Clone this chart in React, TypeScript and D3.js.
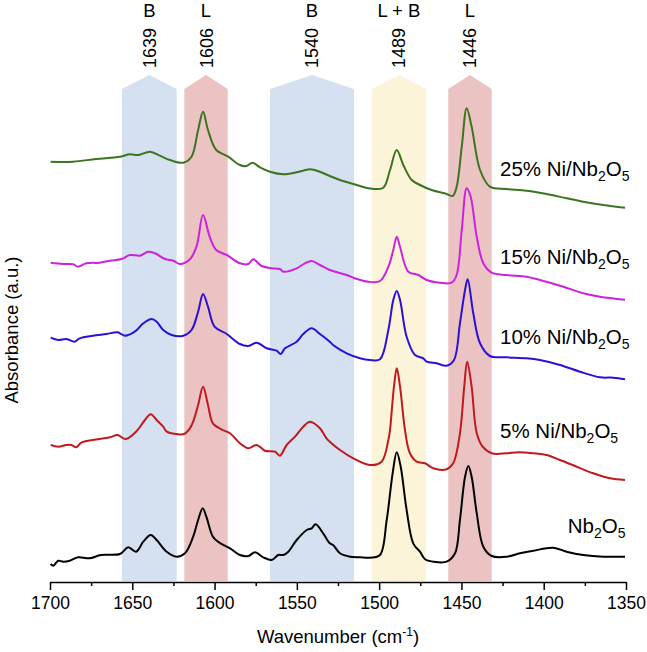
import React, { useRef, useEffect } from "react";
import * as d3 from "d3";

const W = 647,
  H = 652;

// assignment bands (cm-1)
const bandCenters = ["1639", "1606", "1540", "1489", "1446"];
const bandTypes = ["B", "L", "B", "L + B", "L"];
const bandFrom = [1656.3, 1618.4, 1566.3, 1504.5, 1458];
const bandTo = [1623, 1592, 1515.3, 1471.5, 1431.6];
const bandColors = ["#d5e0f0", "#ebc3c3", "#d5e0f0", "#fbf4d9", "#ebc3c3"];

const xTicks = [1700, 1650, 1600, 1550, 1500, 1450, 1400, 1350];
const xMinor = [1675, 1625, 1575, 1525, 1475, 1425, 1375];

// spectra: [wavenumber, absorbance offset a.u.]
const nb2o5: [number, number][] = [
  [1699.6, 0.05], [1698, 0.033], [1695, 0.083], [1692, 0.073], [1688, 0.083], [1683, 0.117],
  [1676, 0.107], [1669, 0.14], [1657.5, 0.15], [1652.5, 0.217], [1647.7, 0.173], [1643.3, 0.273],
  [1638.8, 0.34], [1635.2, 0.29], [1629.1, 0.173], [1623, 0.123], [1618, 0.157], [1613, 0.323],
  [1610, 0.49], [1607.2, 0.607], [1605, 0.523], [1601, 0.323], [1597, 0.263], [1590.6, 0.207],
  [1584.6, 0.14], [1579.5, 0.13], [1575.4, 0.167], [1570.4, 0.117], [1565.3, 0.09], [1561.3, 0.14],
  [1558.2, 0.14], [1555.2, 0.173], [1550.1, 0.29], [1544, 0.39], [1541, 0.407], [1538.6, 0.447],
  [1534, 0.357], [1530, 0.257], [1528, 0.24], [1523.8, 0.157], [1517.7, 0.123], [1511.6, 0.117],
  [1505.6, 0.113], [1499.5, 0.14], [1495.4, 0.49], [1491.8, 0.957], [1489.3, 1.167], [1486.9, 1.023],
  [1483.3, 0.59], [1479.3, 0.257], [1475.2, 0.173], [1472.1, 0.097], [1467.1, 0.073], [1459, 0.073],
  [1453.9, 0.157], [1450.9, 0.49], [1447.8, 0.923], [1445.8, 1.03], [1443.8, 0.923], [1440.7, 0.557],
  [1436.7, 0.223], [1431.6, 0.13], [1422.5, 0.123], [1414.4, 0.157], [1406.3, 0.183], [1394.2, 0.213],
  [1386.1, 0.173], [1376, 0.14], [1363.8, 0.123], [1350.6, 0.123],
];

const ni5: [number, number][] = [
  [1699.6, 1.24], [1695, 1.223], [1690, 1.24], [1687, 1.24], [1684, 1.217], [1681, 1.263],
  [1674, 1.29], [1663.5, 1.317], [1659, 1.34], [1654, 1.3], [1647.3, 1.38], [1642.3, 1.49],
  [1638.8, 1.547], [1635.2, 1.49], [1631.2, 1.423], [1629.1, 1.373], [1623, 1.35], [1618.6, 1.35],
  [1615, 1.407], [1613, 1.473], [1610, 1.64], [1607, 1.823], [1604, 1.64], [1601, 1.457],
  [1595, 1.39], [1590.6, 1.357], [1584.6, 1.257], [1579.5, 1.207], [1574.4, 1.24], [1569.4, 1.183],
  [1563.3, 1.173], [1560.3, 1.133], [1556.2, 1.24], [1551.1, 1.323], [1546.1, 1.423], [1542, 1.473],
  [1536, 1.407], [1532, 1.307], [1530, 1.273], [1523.8, 1.19], [1515.7, 1.107], [1505.6, 1.04],
  [1498.5, 1.073], [1494.4, 1.29], [1493.4, 1.39], [1491, 1.823], [1489.3, 2.007], [1487.3, 1.823],
  [1484.3, 1.39], [1481.3, 1.157], [1477.2, 1.073], [1472.1, 1.057], [1467.1, 1.007], [1459, 0.997],
  [1455, 1.057], [1450.9, 1.357], [1448.3, 1.823], [1446.5, 2.073], [1443.8, 1.823], [1440.7, 1.357],
  [1437.1, 1.223], [1431.6, 1.157], [1422.5, 1.157], [1415.5, 1.167], [1406.3, 1.157], [1398.2, 1.14],
  [1390.1, 1.09], [1380, 1.023], [1369.9, 0.957], [1359.7, 0.907], [1350.6, 0.89],
];

const ni10: [number, number][] = [
  [1699.6, 2.313], [1695, 2.29], [1690, 2.3], [1685, 2.273], [1682, 2.307], [1674, 2.333],
  [1665.5, 2.35], [1659, 2.367], [1654.5, 2.333], [1648.5, 2.373], [1643.3, 2.457], [1638.2, 2.5],
  [1635.2, 2.473], [1631.2, 2.39], [1626.1, 2.34], [1619, 2.333], [1614, 2.39], [1610, 2.573],
  [1607, 2.75], [1604, 2.623], [1600, 2.423], [1592.6, 2.35], [1584.6, 2.25], [1579.5, 2.23],
  [1574.4, 2.263], [1568.3, 2.207], [1562.3, 2.183], [1559.8, 2.15], [1557.2, 2.207], [1550.1, 2.273],
  [1546.1, 2.35], [1541, 2.407], [1536, 2.35], [1530, 2.273], [1528, 2.24], [1519.7, 2.157],
  [1511.6, 2.107], [1505.6, 2.09], [1499.5, 2.097], [1494.4, 2.39], [1491.4, 2.69], [1489.3, 2.78],
  [1487.3, 2.69], [1483.3, 2.323], [1478.2, 2.14], [1473.2, 2.107], [1471.1, 2.073], [1465, 2.057],
  [1459, 2.033], [1454.5, 2.09], [1450.9, 2.457], [1447.8, 2.79], [1446.2, 2.897], [1442.8, 2.557],
  [1438.7, 2.257], [1432.7, 2.13], [1422.5, 2.117], [1410.4, 2.107], [1402.3, 2.09], [1390.1, 2.04],
  [1378, 1.973], [1365.8, 1.917], [1357.7, 1.913], [1350.6, 1.897],
];

const ni15: [number, number][] = [
  [1699.6, 3.063], [1692, 3.05], [1686, 3.047], [1683, 3.023], [1678, 3.057], [1670, 3.063],
  [1663.5, 3.083], [1656.5, 3.1], [1651.5, 3.14], [1645.3, 3.133], [1640.3, 3.173], [1636.2, 3.157],
  [1630.1, 3.1], [1625.1, 3.083], [1621, 3.05], [1615, 3.097], [1611, 3.223], [1607, 3.54],
  [1603, 3.323], [1599, 3.19], [1592.6, 3.14], [1584.6, 3.057], [1579.5, 3.05], [1576.5, 3.097],
  [1571.4, 3.03], [1565.3, 3.007], [1560.3, 3.0], [1558.2, 2.973], [1550.1, 3.007], [1545.1, 3.057],
  [1541, 3.08], [1536, 3.04], [1530, 2.99], [1519.7, 2.94], [1514.7, 2.907], [1506.6, 2.873],
  [1499.5, 2.88], [1494.4, 3.023], [1491.4, 3.19], [1489.3, 3.323], [1487.3, 3.22], [1482.3, 2.973],
  [1476.2, 2.94], [1471.1, 2.89], [1463, 2.863], [1455.9, 2.863], [1452.9, 2.94], [1449.8, 3.39],
  [1446.8, 3.807], [1444.4, 3.723], [1440.7, 3.323], [1436.7, 3.057], [1431.6, 2.963], [1422.5, 2.94],
  [1410.4, 2.923], [1402.3, 2.89], [1388.1, 2.823], [1376, 2.757], [1365.8, 2.723], [1350.6, 2.693],
];

const ni25: [number, number][] = [
  [1699.6, 4.073], [1686, 4.073], [1672, 4.1], [1657.5, 4.123], [1651.5, 4.147], [1646.3, 4.14],
  [1639.2, 4.173], [1633.2, 4.133], [1627.1, 4.09], [1619, 4.063], [1614, 4.123], [1610, 4.39],
  [1607, 4.573], [1604, 4.39], [1599, 4.19], [1591.7, 4.123], [1584.6, 4.04], [1580.5, 4.03],
  [1577, 4.063], [1572.4, 4.017], [1566.3, 3.973], [1558.2, 3.947], [1550.1, 3.967], [1542, 3.997],
  [1536, 3.973], [1530, 3.93], [1523.8, 3.89], [1513.6, 3.84], [1506.6, 3.807], [1497.5, 3.813],
  [1493.4, 3.99], [1489.3, 4.19], [1485.3, 4.04], [1480.2, 3.89], [1475.2, 3.84], [1468.1, 3.79],
  [1459, 3.75], [1455.3, 3.73], [1452.9, 3.823], [1449.8, 4.223], [1446.8, 4.607], [1443.8, 4.423],
  [1438.7, 3.99], [1432.7, 3.823], [1422.5, 3.8], [1410.4, 3.783], [1398.2, 3.75], [1386.1, 3.707],
  [1376, 3.673], [1363.8, 3.64], [1350.6, 3.613],
];

const seriesData = [nb2o5, ni5, ni10, ni15, ni25];
const seriesLoading = ["", "5% Ni/", "10% Ni/", "15% Ni/", "25% Ni/"];
const seriesColors = ["#000000", "#c0191e", "#2b10d8", "#cc22dd", "#3c741f"];

const FONT = "'Liberation Sans', Arial, sans-serif";

const Chart = () => {
  const ref = useRef<SVGSVGElement | null>(null);
  const margin = { top: 69, right: 21, bottom: 83, left: 50 };

  useEffect(() => {
    const svg = d3.select(ref.current);
    svg.selectAll("*").remove();

    const x = d3
      .scaleLinear()
      .domain([1700, 1350])
      .range([margin.left, W - margin.right]);
    const y = d3
      .scaleLinear()
      .domain([0, 5])
      .range([H - margin.bottom, margin.top]);
    const axisY = 582;

    // bands with arrow tops
    const bands = svg.append("g");
    bandCenters.forEach((lab, i) => {
      const x0 = x(bandFrom[i]),
        x1 = x(bandTo[i]);
      const xc = (x0 + x1) / 2;
      bands
        .append("path")
        .attr("d", `M${x0},${axisY - 1}V89L${xc},75L${x1},89V${axisY - 1}Z`)
        .attr("fill", bandColors[i]);
      bands
        .append("text")
        .attr("transform", `translate(${xc + 6.5},68) rotate(-90)`)
        .attr("font-family", FONT)
        .attr("font-size", 18)
        .attr("fill", "#000")
        .text(lab);
      bands
        .append("text")
        .attr("x", xc)
        .attr("y", 17)
        .attr("text-anchor", "middle")
        .attr("font-family", FONT)
        .attr("font-size", 18.5)
        .attr("fill", "#000")
        .text(bandTypes[i]);
    });

    const line = d3
      .line<[number, number]>()
      .x((d) => x(d[0]))
      .y((d) => y(d[1]))
      .curve(d3.curveCatmullRom.alpha(0.5));

    seriesData.forEach((s, i) => {
      svg
        .append("path")
        .datum(s)
        .attr("fill", "none")
        .attr("stroke", seriesColors[i])
        .attr("stroke-width", 2)
        .attr("stroke-linejoin", "round")
        .attr("d", line);
    });

    // series labels
    const labelX = [567.7, 500, 500, 500, 500];
    const labelY = [532.7, 438.3, 344, 264.3, 176];
    seriesLoading.forEach((pre, i) => {
      const t = svg
        .append("text")
        .attr("x", labelX[i])
        .attr("y", labelY[i])
        .attr("font-family", FONT)
        .attr("font-size", 20.5)
        .attr("fill", "#000");
      t.append("tspan").text(pre + "Nb");
      t.append("tspan").attr("font-size", 14).attr("dy", 5).text("2");
      t.append("tspan").attr("dy", -5).text("O");
      t.append("tspan").attr("font-size", 14).attr("dy", 5).text("5");
    });

    // x axis
    const xAxis = (g: any) =>
      g
        .attr("transform", `translate(0,${axisY})`)
        .call(d3.axisBottom(x).tickValues(xTicks).tickSize(8).tickSizeOuter(0).tickPadding(7).tickFormat(d3.format("d")))
        .call((g: any) => g.selectAll("line").attr("stroke", "#000").attr("stroke-width", 1.5))
        .call((g: any) => g.select(".domain").attr("stroke", "#000").attr("stroke-width", 1.6))
        .call((g: any) =>
          g.selectAll("text").attr("font-family", FONT).attr("font-size", 17.5).attr("fill", "#000")
        );
    const xMinorAxis = (g: any) =>
      g
        .attr("transform", `translate(0,${axisY})`)
        .call(d3.axisBottom(x).tickValues(xMinor).tickSize(4).tickSizeOuter(0).tickFormat(() => ""))
        .call((g: any) => g.select(".domain").remove())
        .call((g: any) => g.selectAll("line").attr("stroke", "#000").attr("stroke-width", 1.5));
    svg.append("g").call(xAxis);
    svg.append("g").call(xMinorAxis);

    // axis titles
    const xt = svg
      .append("text")
      .attr("x", (margin.left + W - margin.right) / 2)
      .attr("y", 643)
      .attr("text-anchor", "middle")
      .attr("font-family", FONT)
      .attr("font-size", 18.5)
      .attr("fill", "#000");
    xt.append("tspan").text("Wavenumber (cm");
    xt.append("tspan").attr("font-size", 12).attr("dy", -7).text("-1");
    xt.append("tspan").attr("dy", 7).text(")");

    svg
      .append("text")
      .attr("transform", "translate(18,330) rotate(-90)")
      .attr("text-anchor", "middle")
      .attr("font-family", FONT)
      .attr("font-size", 18.5)
      .attr("fill", "#000")
      .text("Absorbance (a.u.)");
  }, []);

  return (
    <svg
      ref={ref}
      width={W}
      height={H}
      style={{ position: "absolute", left: 0, top: 0, background: "#fff" }}
    ></svg>
  );
};

export default function App() {
  return <Chart />;
}
